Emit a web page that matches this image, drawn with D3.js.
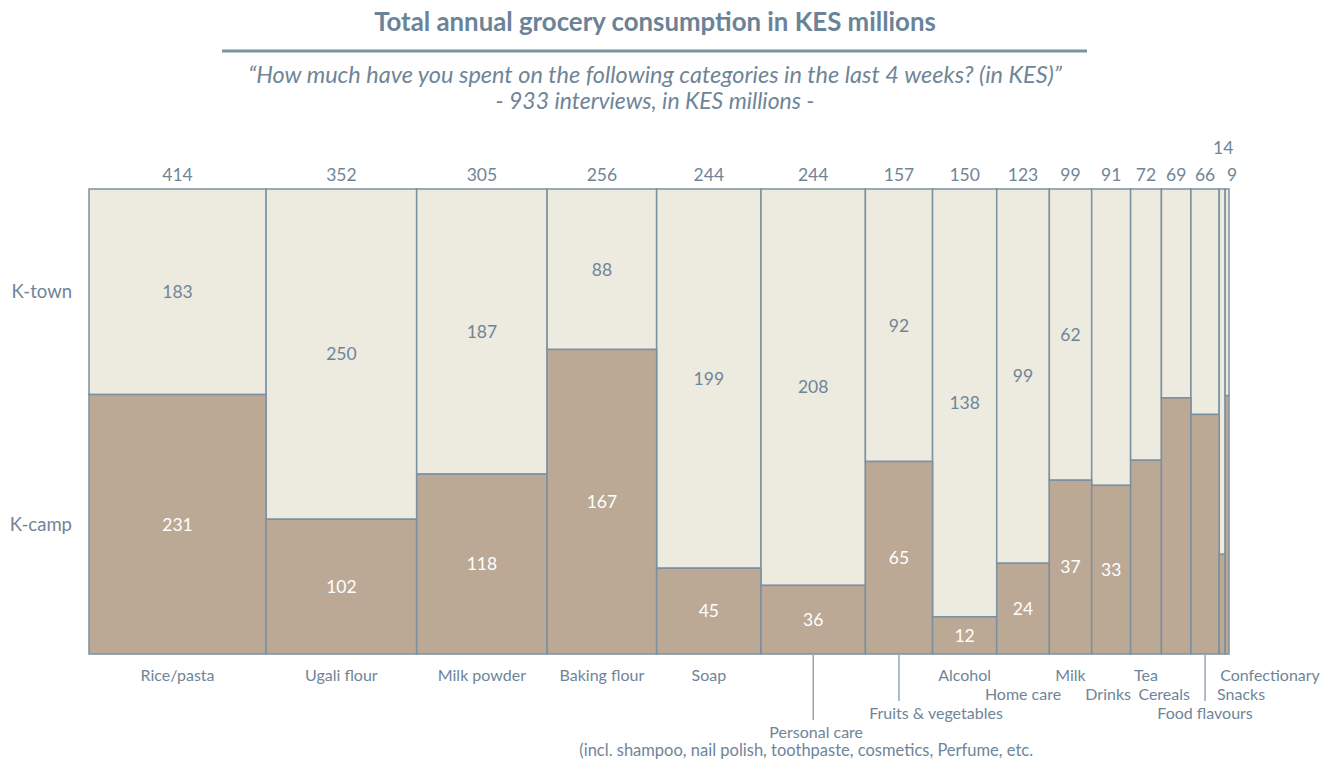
<!DOCTYPE html>
<html>
<head>
<meta charset="utf-8">
<script src="https://cdn.jsdelivr.net/npm/d3@7"></script>
<style>
  html, body { margin: 0; padding: 0; background: #ffffff; }
  svg { display: block; font-family: Lato, "Open Sans", sans-serif; }
</style>
</head>
<body>
<svg id="chart" width="1321" height="760"></svg>
<script>
// Grocery categories, ordered by total annual consumption (KES millions)
const categories = [
  "Rice/pasta", "Ugali flour", "Milk powder", "Baking flour", "Soap",
  "Personal care", "Fruits & vegetables", "Alcohol", "Home care", "Milk",
  "Drinks", "Tea", "Cereals", "Food flavours", "Confectionary", "Snacks"
];
const totals    = [414, 352, 305, 256, 244, 244, 157, 150, 123, 99, 91, 72, 69, 66, 14, 9];
const townValues = [183, 250, 187, 88, 199, 208, 92, 138, 99, 62, 58, 42, 31, 32, 11, 4];
const campValues = [231, 102, 118, 167, 45, 36, 65, 12, 24, 37, 33, 30, 38, 34, 3, 5];
const seriesNames = ["K-town", "K-camp"];
// Number of leading columns that carry value labels in each segment
const townLabelCount = 10;
const campLabelCount = 11;

const title = "Total annual grocery consumption in KES millions";
const subtitle1 = "\u201CHow much have you spent on the following categories in the last 4 weeks? (in KES)\u201D";
const subtitle2 = "- 933 interviews, in KES millions -";
const personalCareNote = "(incl. shampoo, nail polish, toothpaste, cosmetics, Perfume, etc.";

const colors = {
  town: "#edeae0",
  camp: "#bba995",
  border: "#7b90a1",
  text: "#6f8597",
  title: "#6b8397"
};

const svg = d3.select("#chart");

// Plot area
const plotLeft = 89, plotRight = 1229, plotTop = 189, plotBottom = 654;

const cum = [0];
totals.forEach(t => cum.push(cum[cum.length - 1] + t));
const grand = cum[cum.length - 1];

const x = d3.scaleLinear().domain([0, grand]).range([plotLeft, plotRight]);
const y = d3.scaleLinear().domain([0, 1]).range([plotBottom, plotTop]);

const cols = categories.map((c, i) => {
  const share = campValues[i] / (campValues[i] + townValues[i]);
  return {
    name: c, i, total: totals[i], town: townValues[i], camp: campValues[i],
    x0: x(cum[i]), x1: x(cum[i + 1]), split: share
  };
});

// Title and subtitles
svg.append("text")
  .attr("x", 655).attr("y", 22).attr("dy", "0.36em")
  .attr("text-anchor", "middle")
  .attr("font-weight", "bold").attr("font-size", 25.8)
  .attr("fill", colors.title)
  .text(title);

svg.append("line")
  .attr("x1", 222).attr("x2", 1087).attr("y1", 51).attr("y2", 51)
  .attr("stroke", "#7d93a4").attr("stroke-width", 3);

svg.append("text")
  .attr("x", 655).attr("y", 75).attr("dy", "0.36em")
  .attr("text-anchor", "middle").attr("font-style", "italic")
  .attr("font-size", 23.5).attr("fill", colors.text)
  .text(subtitle1);

svg.append("text")
  .attr("x", 655).attr("y", 101).attr("dy", "0.36em")
  .attr("text-anchor", "middle").attr("font-style", "italic")
  .attr("font-size", 23).attr("fill", colors.text)
  .text(subtitle2);

// Segments: K-camp at the bottom, K-town on top
const g = svg.append("g");

g.selectAll("rect.town").data(cols).join("rect")
  .attr("class", "town")
  .attr("x", d => d.x0).attr("width", d => d.x1 - d.x0)
  .attr("y", y(1)).attr("height", d => y(d.split) - y(1))
  .attr("fill", colors.town)
  .attr("stroke", colors.border).attr("stroke-width", 1.5);

g.selectAll("rect.camp").data(cols).join("rect")
  .attr("class", "camp")
  .attr("x", d => d.x0).attr("width", d => d.x1 - d.x0)
  .attr("y", d => y(d.split)).attr("height", d => y(0) - y(d.split))
  .attr("fill", colors.camp)
  .attr("stroke", colors.border).attr("stroke-width", 1.5);

// Segment value labels
g.selectAll("text.townv").data(cols.slice(0, townLabelCount)).join("text")
  .attr("class", "townv")
  .attr("x", d => (d.x0 + d.x1) / 2)
  .attr("y", d => (y(1) + y(d.split)) / 2)
  .attr("dy", "0.36em").attr("text-anchor", "middle")
  .attr("font-size", 17.5).attr("fill", colors.text)
  .text(d => d.town);

g.selectAll("text.campv").data(cols.slice(0, campLabelCount)).join("text")
  .attr("class", "campv")
  .attr("x", d => (d.x0 + d.x1) / 2)
  .attr("y", d => (y(d.split) + y(0)) / 2)
  .attr("dy", "0.36em").attr("text-anchor", "middle")
  .attr("font-size", 17.5).attr("fill", "#ffffff")
  .text(d => d.camp);

// Column totals above the plot; the narrowest one is lifted to avoid overlap
const totalShift = { 14: { dx: 1, dy: -27 }, 15: { dx: 5, dy: 0 } };
svg.selectAll("text.total").data(cols).join("text")
  .attr("class", "total")
  .attr("x", d => (d.x0 + d.x1) / 2 + (totalShift[d.i] ? totalShift[d.i].dx : 0))
  .attr("y", d => 175 + (totalShift[d.i] ? totalShift[d.i].dy : 0))
  .attr("dy", "0.36em").attr("text-anchor", "middle")
  .attr("font-size", 17.5).attr("fill", colors.text)
  .text(d => d.total);

// Series labels on the left, aligned with the first column's segments
const first = cols[0];
svg.append("text")
  .attr("x", 72).attr("y", (y(1) + y(first.split)) / 2).attr("dy", "0.36em")
  .attr("text-anchor", "end").attr("font-size", 18.5).attr("fill", colors.text)
  .text(seriesNames[0]);
svg.append("text")
  .attr("x", 72).attr("y", (y(first.split) + y(0)) / 2).attr("dy", "0.36em")
  .attr("text-anchor", "end").attr("font-size", 18.5).attr("fill", colors.text)
  .text(seriesNames[1]);

// Category labels below the plot, staggered across rows; some use leader lines
const rowY = [675, 694, 713, 732];
const labelLayout = {
  0: { row: 0 }, 1: { row: 0 }, 2: { row: 0 }, 3: { row: 0 }, 4: { row: 0 },
  5: { row: 3, dx: 3, leader: 720 },
  6: { row: 2, dx: 37, leader: 701 },
  7: { row: 0 }, 8: { row: 1 }, 9: { row: 0 }, 10: { row: 1, dx: -3 },
  11: { row: 0 }, 12: { row: 1, dx: -12 },
  13: { row: 2, leader: 701 },
  14: { row: 0, dx: -2, anchor: "start" },
  15: { row: 1, dx: -10, anchor: "start" }
};
const labelSize = 16;

cols.forEach(d => {
  const lay = labelLayout[d.i];
  const cx = (d.x0 + d.x1) / 2;
  if (lay.leader) {
    svg.append("line")
      .attr("x1", cx).attr("x2", cx).attr("y1", plotBottom + 1).attr("y2", lay.leader)
      .attr("stroke", colors.border).attr("stroke-width", 1.2);
  }
  svg.append("text")
    .attr("x", cx + (lay.dx || 0)).attr("y", rowY[lay.row]).attr("dy", "0.36em")
    .attr("text-anchor", lay.anchor || "middle")
    .attr("font-size", labelSize).attr("fill", colors.text)
    .text(d.name);
  if (d.i === 5) {
    svg.append("text")
      .attr("x", cx - 7).attr("y", 750).attr("dy", "0.36em")
      .attr("text-anchor", "middle")
      .attr("font-size", 16.5).attr("fill", colors.text)
      .text(personalCareNote);
  }
});
</script>
</body>
</html>
